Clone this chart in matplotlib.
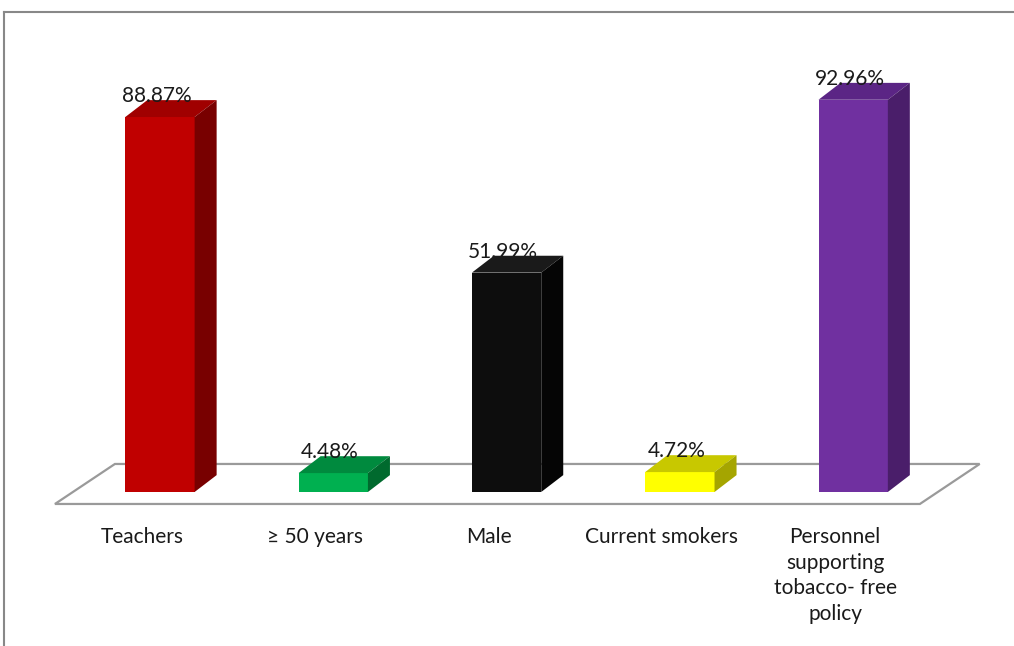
import matplotlib.pyplot as plt
from matplotlib.patches import Polygon
from matplotlib.lines import Line2D

plt.rcParams['font.family'] = ['Lato', 'DejaVu Sans']

# data
categories = ['Teachers', '\u2265 50 years', 'Male', 'Current smokers',
              'Personnel\nsupporting\ntobacco- free\npolicy']
values = [88.87, 4.48, 51.99, 4.72, 92.96]
value_labels = ['88.87%', '4.48%', '51.99%', '4.72%', '92.96%']

# (front, top, side) colours for each bar
face_colors = [
    ('#C00000', '#A00000', '#780000'),
    ('#00B050', '#008A3E', '#006A2E'),
    ('#0D0D0D', '#1A1A1A', '#050505'),
    ('#FFFF00', '#C8C800', '#A5A500'),
    ('#7030A0', '#5B2585', '#4A1E6A'),
]

# 3d look
bar_w = 0.40
depth_x = 0.127
depth_y = 4.0

fig = plt.figure(figsize=(10.14, 6.46), dpi=100)
ax = fig.add_axes([0, 0, 1, 1])
ax.set_xlim(-0.923, 4.928)
ax.set_ylim(-36.5, 116.6)
ax.axis('off')

# floor
floor = Polygon([(-0.606, -2.84), (4.385, -2.84), (4.73, 6.64), (-0.26, 6.64)],
                closed=True, facecolor='white', edgecolor='#9A9A9A', lw=1.6, zorder=1)
ax.add_patch(floor)

for i, (v, (cf, ct, cs)) in enumerate(zip(values, face_colors)):
    x0 = i - bar_w / 2
    x1 = i + bar_w / 2
    front = Polygon([(x0, 0), (x1, 0), (x1, v), (x0, v)], closed=True,
                    facecolor=cf, edgecolor='none', zorder=3)
    top = Polygon([(x0, v), (x1, v), (x1 + depth_x, v + depth_y), (x0 + depth_x, v + depth_y)],
                  closed=True, facecolor=ct, edgecolor='none', zorder=3)
    side = Polygon([(x1, 0), (x1 + depth_x, depth_y), (x1 + depth_x, v + depth_y), (x1, v)],
                   closed=True, facecolor=cs, edgecolor='none', zorder=3)
    for p in (front, top, side):
        ax.add_patch(p)
    ax.text(i - 0.02, v + depth_y - 1.4, value_labels[i], ha='center', va='bottom',
            fontsize=15, color='#1a1a1a', zorder=4)
    ax.text(i - 0.104, -8.3, categories[i], ha='center', va='top',
            fontsize=15, color='#1a1a1a', linespacing=1.35, zorder=4)

# outer frame (top and left only)
fig.add_artist(Line2D([4 / 1014, 1], [1 - 12 / 646, 1 - 12 / 646], color='#888888', lw=1.5))
fig.add_artist(Line2D([4 / 1014, 4 / 1014], [0, 1 - 12 / 646], color='#888888', lw=1.5))

fig.savefig('out.png', dpi=100)
